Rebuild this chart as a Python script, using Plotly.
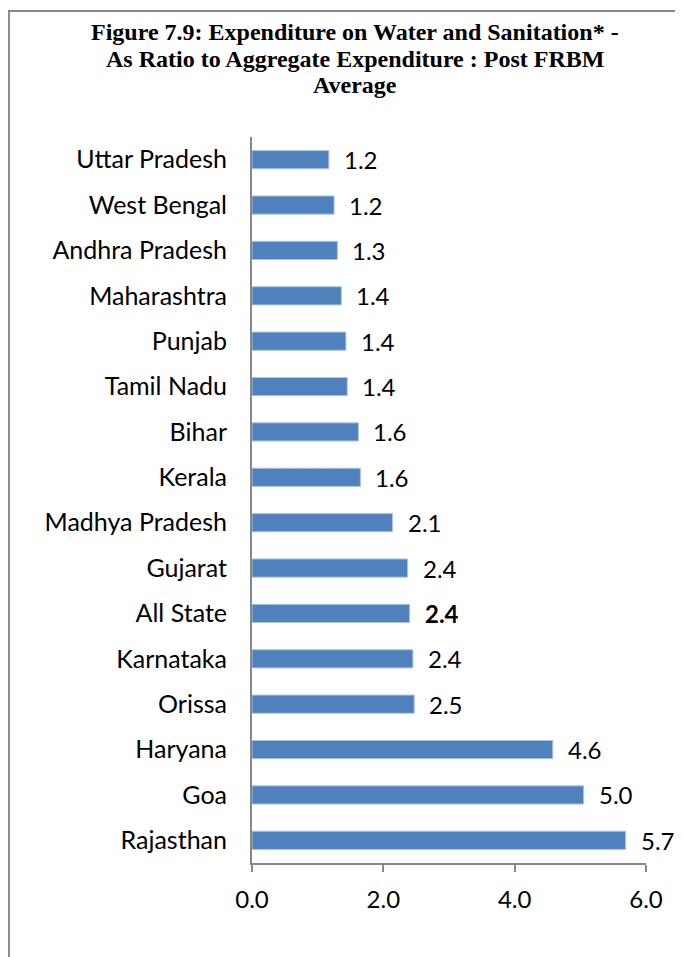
import plotly.graph_objects as go

states = ["Uttar Pradesh", "West Bengal", "Andhra Pradesh", "Maharashtra", "Punjab",
          "Tamil Nadu", "Bihar", "Kerala", "Madhya Pradesh", "Gujarat", "All State",
          "Karnataka", "Orissa", "Haryana", "Goa", "Rajasthan"]
values = [1.17, 1.25, 1.30, 1.36, 1.43, 1.45, 1.62, 1.65, 2.14, 2.37, 2.40,
          2.45, 2.47, 4.58, 5.05, 5.69]
labels = ["1.2", "1.2", "1.3", "1.4", "1.4", "1.4", "1.6", "1.6", "2.1", "2.4", "2.4",
          "2.4", "2.5", "4.6", "5.0", "5.7"]
xticks = [0, 2, 4, 6]
xticklabels = ["0.0", "2.0", "4.0", "6.0"]
title_lines = ["Figure 7.9: Expenditure on Water and Sanitation* -",
               "As Ratio to Aggregate Expenditure : Post FRBM",
               "Average"]

FONT = "Lato, 'Open Sans', sans-serif"
SERIF = "'Liberation Serif', 'Times New Roman', serif"

fig = go.Figure()
fig.add_trace(go.Bar(
    y=states, x=values, orientation="h", width=0.4,
    marker=dict(color="#4F81BD", line=dict(color="#A9C3E3", width=1)),
    hoverinfo="skip",
))

for s, v, l in zip(states, values, labels):
    txt = f"<b>{l}</b>" if s == "All State" else l
    fig.add_annotation(x=v, y=s, text=txt, showarrow=False, xanchor="left",
                       xshift=13, font=dict(family=FONT, size=24, color="#000000"))

for line, ys in zip(title_lines, [105, 78, 52]):
    fig.add_annotation(
        xref="paper", yref="paper", x=0.262, y=1.0, yshift=ys,
        xanchor="center", yanchor="middle",
        text=f"<b>{line}</b>", showarrow=False,
        font=dict(family=SERIF, size=24, color="#000000"),
    )

fig.add_shape(type="rect", xref="paper", yref="paper",
              x0=-0.617, x1=1.3, y0=-0.4, y1=1.1736,
              line=dict(color="#888888", width=2), fillcolor="rgba(0,0,0,0)", layer="below")

fig.update_layout(
    width=683, height=957,
    margin=dict(l=244, r=45, t=129, b=102),
    paper_bgcolor="white", plot_bgcolor="white",
    showlegend=False,
    xaxis=dict(range=[0, 6], tickvals=xticks, ticktext=xticklabels,
               showgrid=False, zeroline=False,
               showline=True, linecolor="#888888", linewidth=2,
               ticks="outside", ticklen=7, tickcolor="#888888", tickwidth=2,
               tickfont=dict(family=FONT, size=24, color="#000000"),
               ticklabelstandoff=7),
    yaxis=dict(autorange="reversed", showgrid=False, zeroline=False,
               showline=True, linecolor="#888888", linewidth=2,
               ticks="", tickfont=dict(family=FONT, size=25, color="#000000"),
               ticklabelstandoff=18),
)

fig.write_html("out.html")
